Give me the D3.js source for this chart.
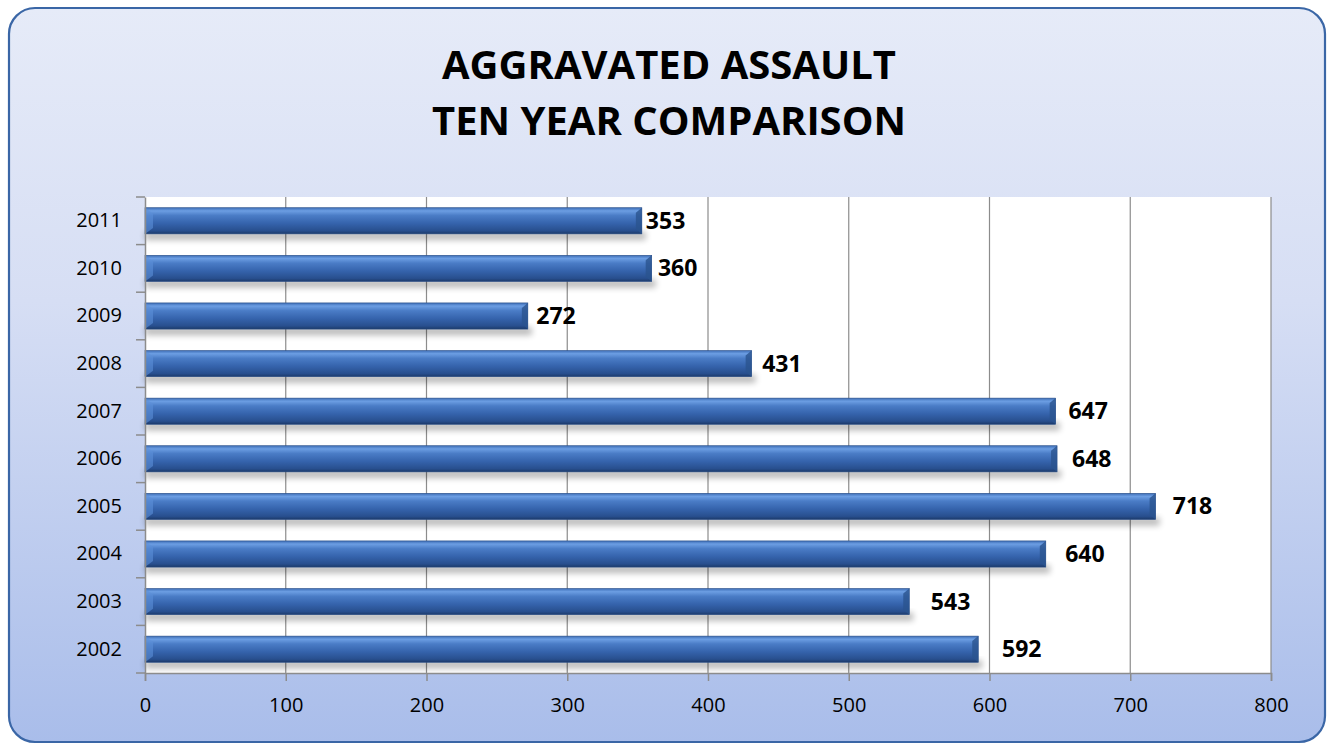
<!DOCTYPE html>
<html><head><meta charset="utf-8">
<script src="https://cdn.jsdelivr.net/npm/d3@7"></script>
<style>html,body{margin:0;padding:0;background:#fff;}svg{display:block;}</style>
</head><body>
<svg id="c" width="1334" height="751"></svg>
<script>
const years = ["2011","2010","2009","2008","2007","2006","2005","2004","2003","2002"];
const values = [353,360,272,431,647,648,718,640,543,592];
const xTicks = [0,100,200,300,400,500,600,700,800];
const titleLines = ["AGGRAVATED ASSAULT","TEN YEAR COMPARISON"];

const svg = d3.select("#c");
const defs = svg.append("defs");
const bg = defs.append("linearGradient").attr("id","bg").attr("x1",0).attr("y1",0).attr("x2",0).attr("y2",1);
bg.append("stop").attr("offset","0%").attr("stop-color","#e6ebf8");
bg.append("stop").attr("offset","40%").attr("stop-color","#d6def4");
bg.append("stop").attr("offset","100%").attr("stop-color","#a9bdea");
const bar = defs.append("linearGradient").attr("id","bar").attr("x1",0).attr("y1",0).attr("x2",0).attr("y2",1);
bar.append("stop").attr("offset","0%").attr("stop-color","#3d6db5");
bar.append("stop").attr("offset","12%").attr("stop-color","#6c9ee3");
bar.append("stop").attr("offset","30%").attr("stop-color","#4a7cc6");
bar.append("stop").attr("offset","60%").attr("stop-color","#3563ac");
bar.append("stop").attr("offset","88%").attr("stop-color","#284f8e");
bar.append("stop").attr("offset","100%").attr("stop-color","#1c3a6a");
const sh = defs.append("filter").attr("id","sh").attr("x","-5%").attr("y","-50%").attr("width","110%").attr("height","250%");
sh.append("feGaussianBlur").attr("stdDeviation",3);

svg.append("rect").attr("x",9).attr("y",8).attr("width",1316).attr("height",734)
  .attr("rx",26).attr("ry",26).attr("fill","url(#bg)").attr("stroke","#3a66a6").attr("stroke-width",2.2);

svg.selectAll("text.title").data(titleLines).join("text").attr("class","title")
  .attr("x",669).attr("y",(d,i)=>79+i*56).attr("text-anchor","middle")
  .attr("font-family","'Open Sans', 'Liberation Sans', sans-serif").attr("font-weight","bold")
  .attr("font-size",40).attr("fill","#000").text(d=>d);

const m = {l:145, r:1271, t:197, b:673};
const x = d3.scaleLinear().domain([0,800]).range([m.l,m.r]);
const y = d3.scaleBand().domain(years).range([m.t,m.b]).paddingInner(0.45).paddingOuter(0.225);

svg.append("rect").attr("x",m.l).attr("y",m.t).attr("width",m.r-m.l).attr("height",m.b-m.t).attr("fill","#fff");

// gridlines
svg.append("g").selectAll("line").data(xTicks.slice(1)).join("line")
  .attr("x1",d=>x(d)).attr("x2",d=>x(d)).attr("y1",m.t).attr("y2",m.b)
  .attr("stroke","#8c8c8c").attr("stroke-width",1.2);

// shadows
svg.append("g").selectAll("rect").data(values).join("rect")
  .attr("x",m.l).attr("y",(d,i)=>y(years[i])+y.bandwidth()-2).attr("width",d=>x(d)-m.l+4).attr("height",8)
  .attr("fill","#000").attr("opacity",0.28).attr("filter","url(#sh)");

// bars
const bars = svg.append("g");
bars.selectAll("rect").data(values).join("rect")
  .attr("x",m.l).attr("y",(d,i)=>y(years[i])).attr("width",d=>x(d)-m.l).attr("height",y.bandwidth())
  .attr("fill","url(#bar)").attr("stroke","#2a4f88").attr("stroke-width",0.6);
bars.selectAll("path.bev").data(values).join("path").attr("class","bev")
  .attr("d",(d,i)=>{const x1=x(d), y0=y(years[i]), h=y.bandwidth();
    return `M${x1},${y0} L${x1-6},${y0+5} L${x1-6},${y0+h-5} L${x1},${y0+h} Z`;})
  .attr("fill","#2b548f").attr("opacity",0.8);
bars.selectAll("path.bevl").data(values).join("path").attr("class","bevl")
  .attr("d",(d,i)=>{const y0=y(years[i]), h=y.bandwidth();
    return `M${m.l},${y0} L${m.l+8},${y0+6} L${m.l+8},${y0+h-6} L${m.l},${y0+h} Z`;})
  .attr("fill","#5c8fd8").attr("opacity",0.6);

// value labels (offset grows slightly down the chart, as in the 3-D original)
svg.append("g").selectAll("text").data(values).join("text")
  .attr("x",(d,i)=>x(d)+4+2.2*i).attr("y",(d,i)=>y(years[i])+y.bandwidth()/2).attr("dy","0.35em")
  .attr("font-family","'Open Sans', 'Liberation Sans', sans-serif").attr("font-weight","bold")
  .attr("font-size",23).attr("fill","#000").text(d=>d);

// y axis
const ya = d3.axisLeft(y).tickSize(0).tickPadding(23);
const gy = svg.append("g").attr("transform",`translate(${m.l},0)`).call(ya);
gy.select(".domain").attr("stroke","#8c8c8c").attr("stroke-width",1.5);
gy.selectAll("text").attr("font-family","'Open Sans', 'Liberation Sans', sans-serif").attr("font-size",20).attr("fill","#000");
const bounds = d3.range(11).map(i=>m.t+i*(m.b-m.t)/10);
svg.append("g").selectAll("line").data(bounds).join("line")
  .attr("x1",m.l-9).attr("x2",m.l).attr("y1",d=>d).attr("y2",d=>d).attr("stroke","#8c8c8c").attr("stroke-width",1.5);

// x axis
const xa = d3.axisBottom(x).tickValues(xTicks).tickSize(8).tickPadding(17);
const gx = svg.append("g").attr("transform",`translate(0,${m.b})`).call(xa);
gx.select(".domain").attr("stroke","#8c8c8c").attr("stroke-width",1.5);
gx.selectAll(".tick line").attr("stroke","#8c8c8c").attr("stroke-width",1.5);
gx.selectAll("text").attr("font-family","'Open Sans', 'Liberation Sans', sans-serif").attr("font-size",20).attr("fill","#000");
</script>
</body></html>
